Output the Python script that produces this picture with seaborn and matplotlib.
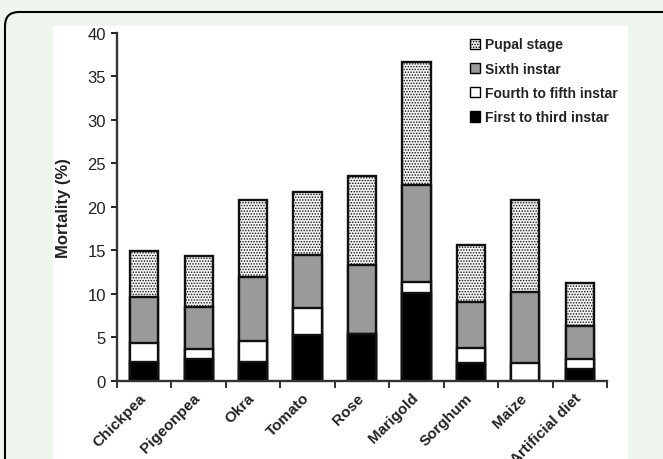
import matplotlib
matplotlib.use("Agg")
import matplotlib.pyplot as plt
import seaborn as sns
import pandas as pd
from matplotlib.patches import Patch, FancyBboxPatch, Rectangle

hosts = ["Chickpea", "Pigeonpea", "Okra", "Tomato", "Rose", "Marigold",
         "Sorghum", "Maize", "Artificial diet"]
first_third = [2.2, 2.5, 2.2, 5.2, 5.4, 10.1, 2.0, 0.0, 1.3]
fourth_fifth = [2.1, 1.1, 2.4, 3.2, 0.0, 1.3, 1.8, 2.0, 1.2]
sixth = [5.3, 4.9, 7.3, 6.1, 7.9, 11.1, 5.3, 8.2, 3.8]
pupal = [5.3, 5.8, 8.9, 7.2, 10.2, 14.2, 6.5, 10.6, 4.9]

stages = ["First to third instar", "Fourth to fifth instar", "Sixth instar", "Pupal stage"]
colors = ["black", "white", "#9a9a9a", "#e6e6e6"]

df = pd.DataFrame({"host": hosts, stages[0]: first_third, stages[1]: fourth_fifth,
                   stages[2]: sixth, stages[3]: pupal})
cum = df[stages].cumsum(axis=1)
cum["host"] = hosts

sns.set_style("white")
plt.rcParams['font.family'] = ['Liberation Sans', 'DejaVu Sans']
plt.rcParams['hatch.color'] = '#8a8a8a'
plt.rcParams['hatch.linewidth'] = 0.7

fig = plt.figure(figsize=(6.63, 4.60), dpi=100)
fig.patch.set_facecolor("#eef5ec")

# card border and white panel behind the chart (inch coordinates)
card = FancyBboxPatch((0.05, -1.0), 8.0, 4.60 - 0.13 + 1.0,
                      boxstyle="round,pad=0,rounding_size=0.14",
                      transform=fig.dpi_scale_trans, facecolor="none",
                      edgecolor="black", linewidth=1.5, zorder=-2)
panel = Rectangle((0.53, 0), 6.28 - 0.53, 4.60 - 0.27,
                  transform=fig.dpi_scale_trans, facecolor="white",
                  edgecolor="none", zorder=-1)
fig.patches.extend([card, panel])

W, H = 663, 460
ax = fig.add_axes([117 / W, 1 - 381.7 / H, (607 - 117) / W, (381.7 - 34) / H])
ax.patch.set_alpha(0)

# draw cumulative layers from the top down
n = len(hosts)
for i in range(3, -1, -1):
    before = len(ax.patches)
    sns.barplot(data=cum, x="host", y=stages[i], color=colors[i], width=0.52,
                edgecolor="#111111", linewidth=1.7, saturation=1, ax=ax)
    if i == 3:
        for p in ax.patches[before:]:
            p.set_hatch("......")
            p.set_facecolor("#f4f4f4")

ax.set_ylim(0, 40)
ax.set_xlim(-0.5, n - 0.5)
ax.set_yticks(range(0, 41, 5))
ax.tick_params(axis="y", labelsize=12, length=4, width=1.4, direction="out", left=True,
               pad=4, colors="#222222")
# labels sit a little left of the bar centres, like the original
ax.set_xticks([k - 0.1 for k in range(n)])
ax.set_xticklabels(hosts, rotation=45, ha="right", rotation_mode="anchor",
                   fontsize=11, fontweight="bold", color="#222222")
ax.set_xticks([k - 0.5 for k in range(n + 1)], minor=True)
ax.tick_params(axis="x", which="major", length=0, pad=7)
ax.tick_params(axis="x", which="minor", length=5, width=1.4, direction="out", bottom=True,
               color="#333333")
ax.set_xlabel("")
ax.set_ylabel("Mortality (%)", fontsize=12, fontweight="bold", labelpad=12, color="#222222")

for s in ["top", "right"]:
    ax.spines[s].set_visible(False)
for s in ["left", "bottom"]:
    ax.spines[s].set_color("#333333")
    ax.spines[s].set_linewidth(1.7)

handles = []
for i in range(3, -1, -1):
    if i == 3:
        handles.append(Patch(facecolor="#f4f4f4", edgecolor="black", hatch="......", label=stages[i]))
    else:
        handles.append(Patch(facecolor=colors[i], edgecolor="black", label=stages[i]))
leg = fig.legend(handles=handles, loc="upper left", bbox_to_anchor=(457 / W, 1 - 26 / H),
                 frameon=False, prop={"weight": "bold", "size": 10},
                 handlelength=0.75, handleheight=0.75, handletextpad=0.35, labelspacing=0.74)
for t in leg.get_texts():
    t.set_color("#222222")

fig.savefig("out.png", dpi=100, facecolor=fig.get_facecolor())
